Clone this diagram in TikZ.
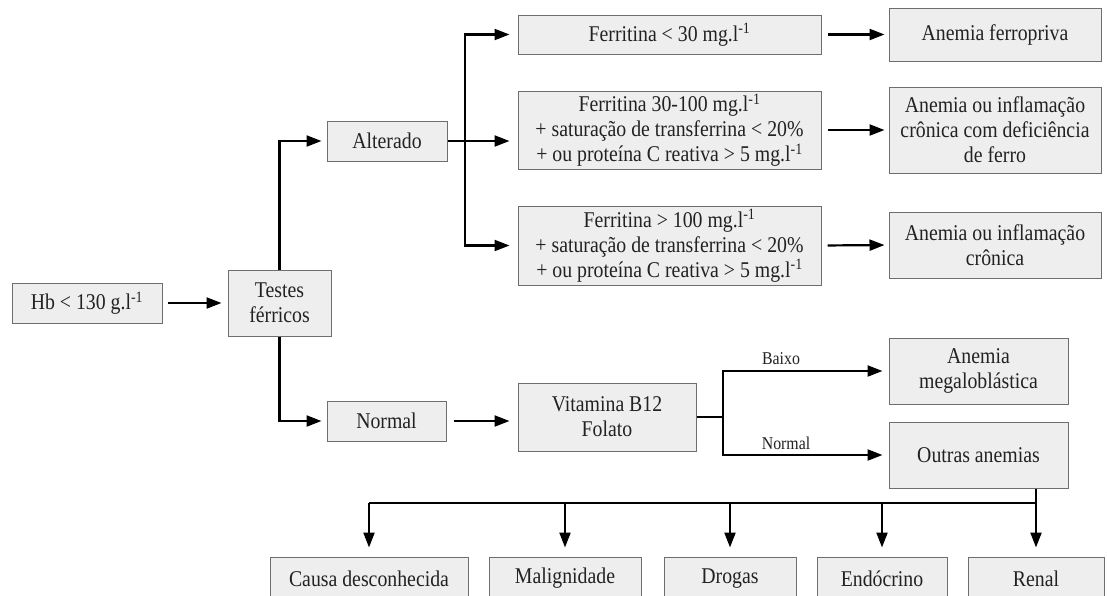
\documentclass[tikz,border=0pt]{standalone}
\usepackage{fontspec}
\setmainfont{Liberation Serif}[FakeStretch=0.88]
\usetikzlibrary{arrows.meta}
\definecolor{boxfill}{HTML}{EEEEEE}
\definecolor{boxline}{HTML}{6E6E6E}
\definecolor{txt}{HTML}{222222}
\newcommand{\mysup}[1]{\textsuperscript{#1}}
\begin{document}
\begin{tikzpicture}[x=1pt,y=-1pt,
  box/.style={draw=boxline,line width=1pt,fill=boxfill,text=txt,inner sep=0pt,align=center,
    font=\fontsize{22.5}{25}\selectfont},
  arr/.style={line width=2.2pt,-{Triangle[length=15pt,width=11pt]}},
  ln/.style={line width=2.2pt},
  lbl/.style={text=txt,font=\fontsize{18}{20}\selectfont,inner sep=0pt}]
\useasboundingbox (0,0) rectangle (1107,595);
\clip (0,0) rectangle (1107,595);
\fill[white] (0,0) rectangle (1107,595);

% boxes
\node[box,minimum width=150pt,minimum height=40pt] (hb) at (87,303) {Hb < 130 g.l\mysup{-1}};
\node[box,minimum width=103pt,minimum height=66pt] (testes) at (279.5,303) {Testes\\férricos};
\node[box,minimum width=120pt,minimum height=40pt] (alt) at (387,141) {Alterado};
\node[box,minimum width=119pt,minimum height=40pt] (norm) at (386.5,421) {Normal};

\node[box,minimum width=303pt,minimum height=39pt] (f1) at (669.5,34.5) {Ferritina < 30 mg.l\mysup{-1}};
\node[box,minimum width=303pt,minimum height=78pt] (f2) at (669.5,130) {Ferritina 30-100 mg.l\mysup{-1}\\+ saturação de transferrina < 20\%\\+ ou proteína C reativa > 5 mg.l\mysup{-1}};
\node[box,minimum width=303pt,minimum height=79pt] (f3) at (669.5,245.5) {Ferritina > 100 mg.l\mysup{-1}\\+ saturação de transferrina < 20\%\\+ ou proteína C reativa > 5 mg.l\mysup{-1}};

\node[box,minimum width=212pt,minimum height=53pt] (a1) at (995,34.5) {Anemia ferropriva};
\node[box,minimum width=212pt,minimum height=86pt] (a2) at (995,130) {Anemia ou inflamação\\crônica com deficiência\\de ferro};
\node[box,minimum width=212pt,minimum height=66pt] (a3) at (995,245) {Anemia ou inflamação\\crônica};

\node[box,minimum width=178pt,minimum height=68pt] (vit) at (607,417) {Vitamina B12\\Folato};
\node[box,minimum width=179pt,minimum height=66pt] (meg) at (978.5,371) {Anemia\\megaloblástica};
\node[box,minimum width=179pt,minimum height=66pt] (outras) at (978.5,455) {Outras anemias};

\node[box,minimum width=198pt,minimum height=43pt] (causa) at (369,578.5) {Causa desconhecida};
\node[box,minimum width=152pt,minimum height=43pt] (malig) at (565,578.5) {Malignidade};
\node[box,minimum width=132pt,minimum height=43pt] (drogas) at (730,578.5) {Drogas};
\node[box,minimum width=130pt,minimum height=43pt] (endo) at (882,578.5) {Endócrino};
\node[box,minimum width=136pt,minimum height=43pt] (renal) at (1036,578.5) {Renal};

% labels
\node[lbl] (baixo) at (781,359) {Baixo};
\node[lbl] (normlbl) at (786,443) {Normal};

% junction coordinates
\coordinate (j1) at (465,141);
\coordinate (j2) at (723,417);
\coordinate (bus) at (0,503);

% connectors
\draw[arr,shorten <=5pt,shorten >=6pt] (hb.east) -- (testes.west);
\draw[arr,shorten >=5pt] (testes.north) |- (alt.west);
\draw[arr,shorten >=5pt] (testes.south) |- (norm.west);

\draw[arr,shorten >=8pt] (alt.east) -- (alt.east -| f2.west);
\draw[arr,shorten >=8pt] (j1) |- (f1.west);
\draw[arr,shorten >=8pt] (j1) |- (f3.west);

\draw[arr,shorten <=6pt,shorten >=4pt] (f1.east) -- (a1.west);
\draw[arr,shorten <=6pt,shorten >=4pt] (f2.east) -- (a2.west);
\draw[arr,shorten <=6pt,shorten >=4pt] (f3.east) -- (a3.west);

\draw[arr,shorten <=7pt,shorten >=8pt] (norm.east) -- (norm.east -| vit.west);
\draw[ln] (vit.east) -- (j2);
\draw[arr,shorten >=6pt] (j2) |- (meg.west);
\draw[arr,shorten >=6pt] (j2) |- (outras.west);

\draw[ln] (causa.north |- bus) -- (renal.north |- bus);
\draw[arr,shorten >=9pt] (outras.south -| renal.north) -- (renal.north);
\draw[arr,shorten >=9pt] (causa.north |- bus) -- (causa.north);
\draw[arr,shorten >=9pt] (malig.north |- bus) -- (malig.north);
\draw[arr,shorten >=9pt] (drogas.north |- bus) -- (drogas.north);
\draw[arr,shorten >=9pt] (endo.north |- bus) -- (endo.north);
\end{tikzpicture}
\end{document}
